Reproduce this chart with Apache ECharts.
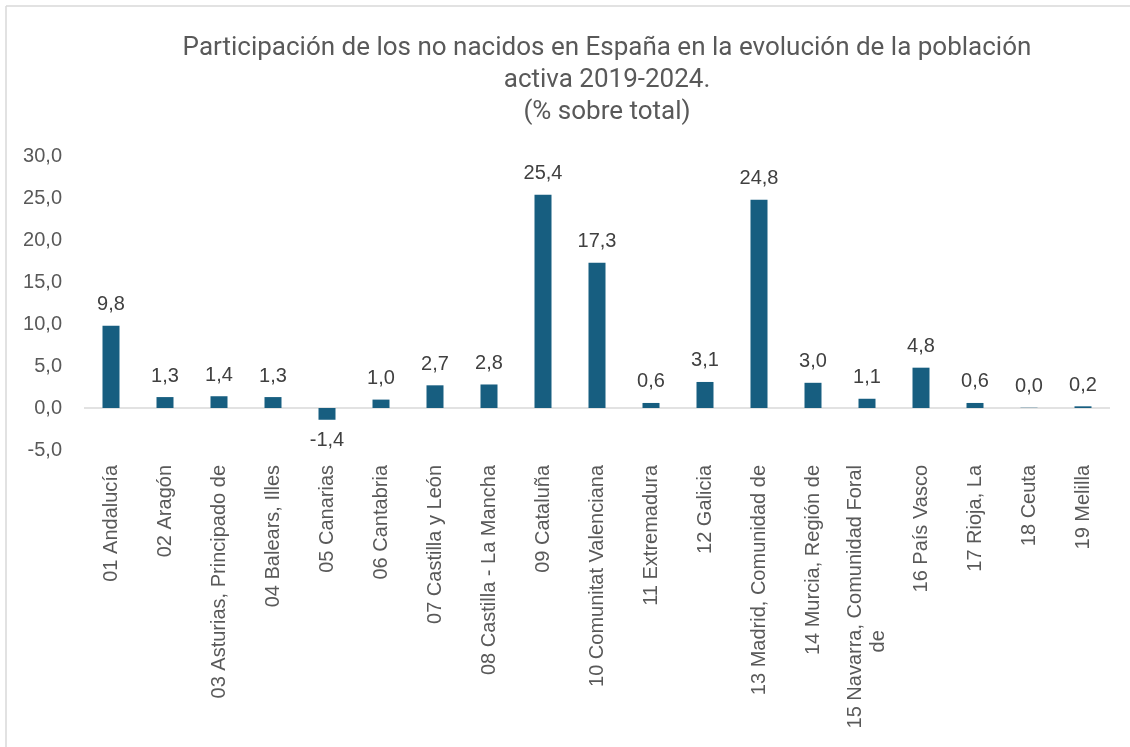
<!DOCTYPE html>
<html>
<head>
<meta charset="utf-8">
<script src="https://cdn.jsdelivr.net/npm/echarts@6/dist/echarts.min.js"></script>
<style>
html,body{margin:0;padding:0;background:#fff;}
#c{width:1130px;height:747px;}
</style>
</head>
<body>
<div id="c"></div>
<script>
const titleLines = ["Participación de los no nacidos en España en la evolución de la población", "activa 2019-2024.", "(% sobre total)"];
const categories = ["01 Andalucía", "02 Aragón", "03 Asturias, Principado de", "04 Balears, Illes", "05 Canarias", "06 Cantabria", "07 Castilla y León", "08 Castilla - La Mancha", "09 Cataluña", "10 Comunitat Valenciana", "11 Extremadura", "12 Galicia", "13 Madrid, Comunidad de", "14 Murcia, Región de", "15 Navarra, Comunidad Foral\nde", "16 País Vasco", "17 Rioja, La", "18 Ceuta", "19 Melilla"];
const values = [9.8, 1.3, 1.4, 1.3, -1.4, 1.0, 2.7, 2.8, 25.4, 17.3, 0.6, 3.1, 24.8, 3.0, 1.1, 4.8, 0.6, 0.03, 0.2];
const yMin = -5, yMax = 30, yStep = 5;

const fmt = v => v.toFixed(1).replace('.', ',');
const labelFont = '"Liberation Sans", Arial, sans-serif';

const chart = echarts.init(document.getElementById('c'));
chart.setOption({
  animation: false,
  backgroundColor: '#fff',
  title: {
    text: titleLines.join('\n'),
    left: 602, top: 27, textAlign: 'center',
    textStyle: { fontFamily: '"Liberation Sans Narrow", "Roboto", sans-serif', fontSize: 26, fontWeight: 'normal', color: '#595959', lineHeight: 32 }
  },
  graphic: [
    { type: 'line', shape: { x1: 6, y1: 6, x2: 1130, y2: 6 }, style: { stroke: '#d9d9d9', lineWidth: 1.5 } },
    { type: 'line', shape: { x1: 6, y1: 6, x2: 6, y2: 747 }, style: { stroke: '#d9d9d9', lineWidth: 1.5 } }
  ],
  grid: { left: 84, right: 20, top: 156, bottom: 297, containLabel: false },
  xAxis: {
    type: 'category', data: categories,
    axisLine: { show: false, onZero: false }, axisTick: { show: false },
    axisLabel: {
      rotate: 90, margin: 15, color: '#595959', fontSize: 20, fontFamily: labelFont, interval: 0,
      lineHeight: 23,
      formatter: v => {
        const parts = v.split('\n');
        if (parts.length < 2) return '{a|' + v + '}';
        return '{a|' + parts[0] + '}\n{b|' + parts[1] + '}';
      },
      rich: {
        a: { color: '#595959', fontSize: 20, fontFamily: labelFont, lineHeight: 23 },
        b: { color: '#595959', fontSize: 20, fontFamily: labelFont, lineHeight: 23, align: 'left', padding: [0, 0, 0, 76] }
      }
    }
  },
  yAxis: {
    type: 'value', min: yMin, max: yMax, interval: yStep,
    axisLine: { show: false }, axisTick: { show: false }, splitLine: { show: false },
    axisLabel: { formatter: v => fmt(v), color: '#595959', fontSize: 20, fontFamily: labelFont, margin: 22 }
  },
  series: [{
    type: 'bar',
    barWidth: 17,
    data: values.map(v => ({ value: v, label: { position: v < 0 ? 'bottom' : 'top' } })),
    itemStyle: { color: '#175e80' },
    label: { show: true, distance: 11, formatter: p => fmt(p.value), color: '#404040', fontSize: 20, fontFamily: labelFont },
    markLine: {
      silent: true, symbol: 'none', label: { show: false },
      lineStyle: { color: '#d9d9d9', width: 1.5, type: 'solid' },
      data: [{ yAxis: 0 }],
      z: 1
    },
    z: 2
  }]
});
</script>
</body>
</html>
